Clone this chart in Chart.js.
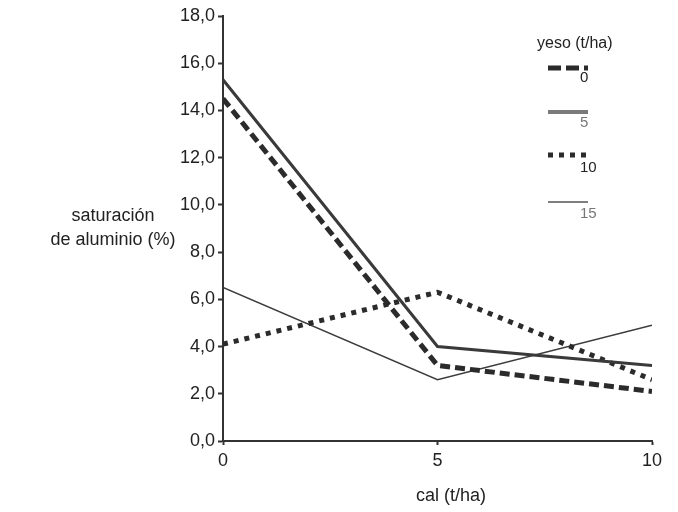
<!DOCTYPE html>
<html>
<head>
<meta charset="utf-8">
<script src="https://cdn.jsdelivr.net/npm/chart.js@4/dist/chart.umd.min.js"></script>
<style>
  html, body { margin: 0; padding: 0; background: #fff; }
  #wrap { position: relative; width: 678px; height: 512px; font-family: "Liberation Sans", Arial, sans-serif; color: #222; }
  canvas { position: absolute; left: 0; top: 0; }
  .t { position: absolute; white-space: nowrap; }
  #ytitle { left: 40px; top: 203px; width: 146px; text-align: center; font-size: 18px; line-height: 24px; }
  #xtitle { left: 351px; top: 485px; width: 200px; text-align: center; font-size: 18px; }
  #legtitle { left: 537px; top: 34px; font-size: 16px; }
  .lab { position: absolute; left: 580px; font-size: 15px; }
  .smp { position: absolute; left: 548px; }
</style>
</head>
<body>
<div id="wrap">
  <canvas id="c" width="678" height="512"></canvas>
  <div class="t" id="ytitle">saturación<br>de aluminio (%)</div>
  <div class="t" id="xtitle">cal (t/ha)</div>
  <div class="t" id="legtitle">yeso (t/ha)</div>
  <div id="legend"></div>
</div>
<script>
// Data
const cal = [0, 5, 10];
const yesoLabels = ['0', '5', '10', '15'];
const yeso0 = [14.5, 3.2, 2.1];
const yeso5 = [15.3, 4.0, 3.2];
const yeso10 = [4.1, 6.3, 2.6];
const yeso15 = [6.5, 2.6, 4.9];
const yTicks = [0, 2, 4, 6, 8, 10, 12, 14, 16, 18];

const seriesValues = [yeso0, yeso5, yeso10, yeso15];
const styles = [
  { color: '#2b2b2b', width: 5, dash: [10, 5], legendColor: '#2b2b2b', labelColor: '#222' },
  { color: '#3a3a3a', width: 3, dash: [], legendColor: '#7a7a7a', labelColor: '#777' },
  { color: '#2b2b2b', width: 5, dash: [5, 6], legendColor: '#2b2b2b', labelColor: '#222' },
  { color: '#3c3c3c', width: 1.5, dash: [], legendColor: '#555', labelColor: '#777' }
];

const datasets = seriesValues.map((vals, i) => ({
  label: yesoLabels[i],
  data: cal.map((x, j) => ({ x: x, y: vals[j] })),
  borderColor: styles[i].color,
  borderWidth: styles[i].width,
  borderDash: styles[i].dash,
  borderCapStyle: 'butt',
  pointRadius: 0,
  tension: 0,
  fill: false
}));

new Chart(document.getElementById('c'), {
  type: 'line',
  data: { datasets: datasets },
  options: {
    responsive: false,
    animation: false,
    layout: { padding: { top: 16, right: 26, left: 0, bottom: 0 } },
    plugins: { legend: { display: false }, tooltip: { enabled: false } },
    scales: {
      x: {
        type: 'linear',
        min: 0, max: 10,
        afterFit: s => { s.height = 71; },
        border: { color: '#333', width: 2 },
        grid: { drawOnChartArea: false, drawTicks: true, tickLength: 4, tickColor: '#333', tickWidth: 2 },
        ticks: { stepSize: 5, padding: 5, color: '#222', font: { family: 'Liberation Sans', size: 18 } }
      },
      y: {
        min: 0, max: 18,
        afterFit: s => { s.width = 223; },
        afterBuildTicks: s => { s.ticks = yTicks.map(v => ({ value: v })); },
        border: { color: '#333', width: 2 },
        grid: { drawOnChartArea: false, drawTicks: true, tickLength: 5, tickColor: '#333', tickWidth: 2 },
        ticks: {
          padding: 3, color: '#222',
          font: { family: 'Liberation Sans', size: 18 },
          callback: v => Number(v).toFixed(1).replace('.', ',')
        }
      }
    }
  }
});

// HTML legend
const legend = document.getElementById('legend');
const sampleTops = [62, 106, 149, 196];
const labelTops = [68, 113, 158, 204];
yesoLabels.forEach((lab, i) => {
  const st = styles[i];
  const w = i === 0 || i === 2 ? 5 : (i === 1 ? 4 : 1.5);
  let dash = '';
  if (i === 0) dash = 'stroke-dasharray="13,5"';
  if (i === 2) dash = 'stroke-dasharray="5,6"';
  const svg = document.createElement('div');
  svg.className = 'smp';
  svg.style.top = (sampleTops[i] - 4) + 'px';
  svg.innerHTML = '<svg width="40" height="8"><line x1="0" y1="4" x2="40" y2="4" stroke="' + st.legendColor + '" stroke-width="' + w + '" ' + dash + '/></svg>';
  legend.appendChild(svg);
  const t = document.createElement('div');
  t.className = 'lab';
  t.style.top = labelTops[i] + 'px';
  t.style.color = st.labelColor;
  t.textContent = lab;
  legend.appendChild(t);
});
</script>
</body>
</html>
